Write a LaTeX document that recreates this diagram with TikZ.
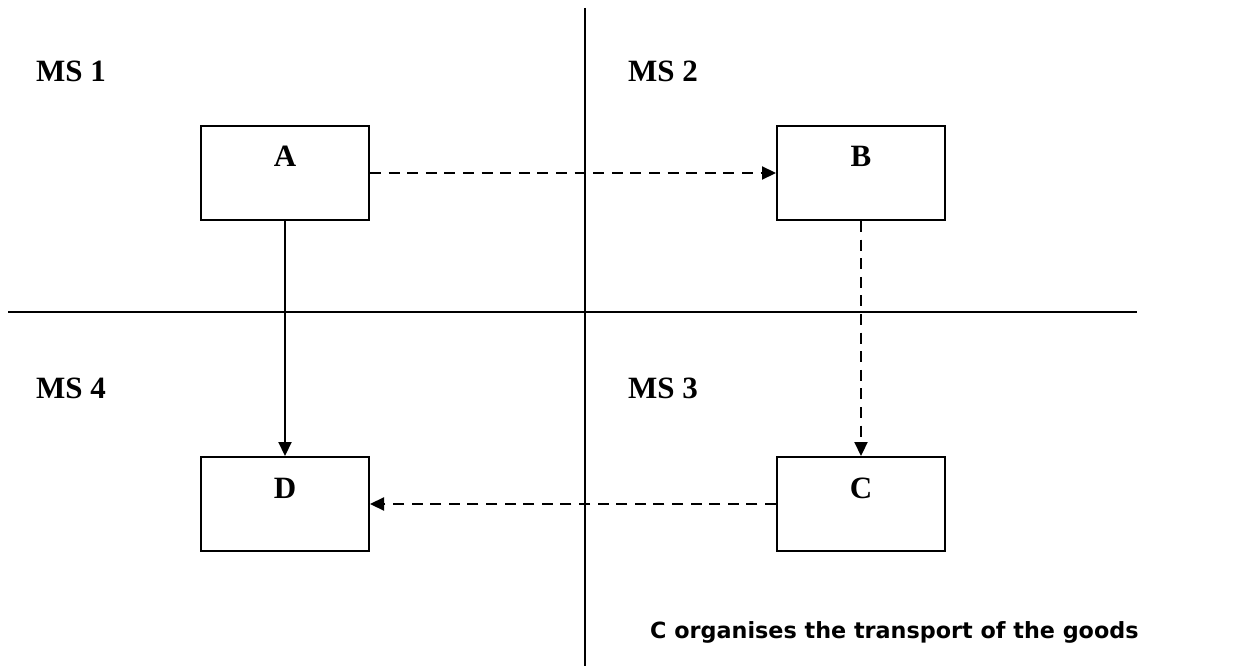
\documentclass[tikz,border=0pt]{standalone}
\usepackage{fontspec}
\setmainfont{Liberation Serif}
\newfontfamily\verd{DejaVu Sans}
\usetikzlibrary{arrows.meta}
\begin{document}
\begin{tikzpicture}[x=1pt,y=-1pt,
  box/.style={draw, line width=2pt, minimum width=168pt, minimum height=94pt, inner sep=0pt},
  boxlab/.style={font=\fontsize{31}{31}\selectfont\bfseries, anchor=base, inner sep=0pt},
  mslab/.style={font=\fontsize{31}{31}\selectfont\bfseries, anchor=base west, inner sep=0pt},
  axis/.style={line width=1.6pt},
  flow/.style={line width=2.2pt, -{Triangle[length=14pt,width=13pt]}},
  dashflow/.style={flow, dash pattern=on 11pt off 7.6pt}]
\useasboundingbox (0,0) rectangle (1235,666);
% axes
\coordinate (vt) at (585,8);
\coordinate (vb) at (585,666);
\coordinate (hl) at (8,312);
\coordinate (hr) at (1137,312);
\draw[axis] (vt) -- (vb);
\draw[axis] (hl) -- (hr);
% boxes
\node[box] (A) at (285,173) {};
\node[box] (B) at (861,173) {};
\node[box] (C) at (861,504) {};
\node[box] (D) at (285,504) {};
\node[boxlab] (Al) at (285,167) {A};
\node[boxlab] (Bl) at (861,167) {B};
\node[boxlab] (Cl) at (861,498) {C};
\node[boxlab] (Dl) at (285,498) {D};
% region labels
\node[mslab] (ms1) at (36,82) {MS 1};
\node[mslab] (ms2) at (628,82) {MS 2};
\node[mslab] (ms4) at (36,398) {MS 4};
\node[mslab] (ms3) at (628,398) {MS 3};
% connectors
\draw[dashflow] (A.east) -- (B.west);
\draw[dashflow] (B.south) -- (C.north);
\draw[dashflow] (C.west) -- (D.east);
\draw[flow] (A.south) -- (D.north);
% note
\node[font=\verd\fontsize{22.3}{22.3}\selectfont\bfseries, anchor=base west, inner sep=0pt] (note) at (650,638) {C organises the transport of the goods};
\end{tikzpicture}
\end{document}
